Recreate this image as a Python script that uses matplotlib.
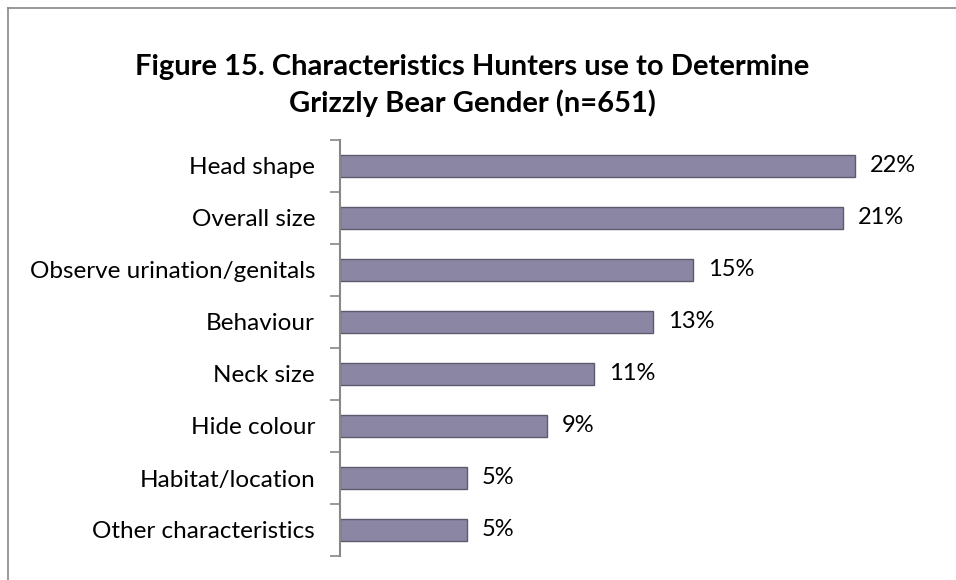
import matplotlib.pyplot as plt
from matplotlib.lines import Line2D

categories = ['Head shape', 'Overall size', 'Observe urination/genitals', 'Behaviour',
              'Neck size', 'Hide colour', 'Habitat/location', 'Other characteristics']
values = [21.9, 21.4, 15.0, 13.3, 10.8, 8.8, 5.4, 5.4]
labels = ['22%', '21%', '15%', '13%', '11%', '9%', '5%', '5%']

FONT = 'Lato'

fig = plt.figure(figsize=(9.56, 5.8), dpi=100)
ax = fig.add_axes([340 / 956, 24 / 580, 587.5 / 956, 416 / 580])

y = list(range(len(categories)))
ax.barh(y, values, height=0.42, color='#8B86A3', edgecolor='#5E596F', linewidth=1.0)
ax.set_ylim(len(categories) - 0.5, -0.5)
ax.set_xlim(0, 25)

for i, (v, lab) in enumerate(zip(values, labels)):
    ax.text(v + 0.65, i, lab, va='center', ha='left', fontsize=17, family=FONT, color='black')

ax.set_yticks(y)
ax.set_yticklabels(categories, fontsize=17.5, family=FONT)
ax.set_yticks([i - 0.5 for i in range(len(categories) + 1)], minor=True)
ax.tick_params(axis='y', which='major', length=0, pad=18)
ax.tick_params(axis='y', which='minor', length=7, color='#888888', width=1.2)
ax.set_xticks([])
for s in ['top', 'right', 'bottom']:
    ax.spines[s].set_visible(False)
ax.spines['left'].set_color('#888888')
ax.spines['left'].set_linewidth(1.5)

fig.text(472 / 956, 1 - 67 / 580, 'Figure 15. Characteristics Hunters use to Determine',
         ha='center', va='center', fontsize=21, fontweight='bold', family=FONT)
fig.text(472 / 956, 1 - 103 / 580, 'Grizzly Bear Gender (n=651)',
         ha='center', va='center', fontsize=21, fontweight='bold', family=FONT)

# chart border (top and left edges visible)
fig.add_artist(Line2D([8 / 956, 1], [1 - 8 / 580, 1 - 8 / 580], color='#888888', lw=1.2))
fig.add_artist(Line2D([8 / 956, 8 / 956], [0, 1 - 8 / 580], color='#888888', lw=1.2))

fig.savefig('out.png', dpi=100)
